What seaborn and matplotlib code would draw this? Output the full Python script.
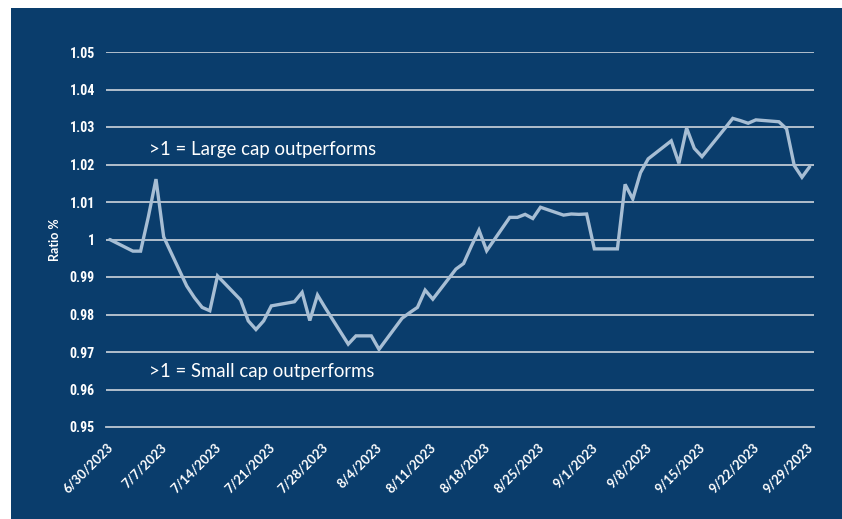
import matplotlib
matplotlib.use("Agg")
import matplotlib.pyplot as plt
import matplotlib.transforms as mtransforms
from matplotlib import font_manager as fm
import pandas as pd
import seaborn as sns

# Daily large-cap / small-cap performance ratio, Q3 2023
dates = [
    "2023-06-30", "2023-07-03", "2023-07-04", "2023-07-05", "2023-07-06", "2023-07-07",
    "2023-07-10", "2023-07-11", "2023-07-12", "2023-07-13", "2023-07-14",
    "2023-07-17", "2023-07-18", "2023-07-19", "2023-07-20", "2023-07-21",
    "2023-07-24", "2023-07-25", "2023-07-26", "2023-07-27", "2023-07-28",
    "2023-07-31", "2023-08-01", "2023-08-02", "2023-08-03", "2023-08-04",
    "2023-08-07", "2023-08-08", "2023-08-09", "2023-08-10", "2023-08-11",
    "2023-08-14", "2023-08-15", "2023-08-16", "2023-08-17", "2023-08-18",
    "2023-08-21", "2023-08-22", "2023-08-23", "2023-08-24", "2023-08-25",
    "2023-08-28", "2023-08-29", "2023-08-30", "2023-08-31", "2023-09-01",
    "2023-09-04", "2023-09-05", "2023-09-06", "2023-09-07", "2023-09-08",
    "2023-09-11", "2023-09-12", "2023-09-13", "2023-09-14", "2023-09-15",
    "2023-09-18", "2023-09-19", "2023-09-20", "2023-09-21", "2023-09-22",
    "2023-09-25", "2023-09-26", "2023-09-27", "2023-09-28", "2023-09-29",
]
ratio = [
    1.0000, 0.9969, 0.9969, 1.0060, 1.0161, 1.0007,
    0.9876, 0.9845, 0.9819, 0.9810, 0.9903,
    0.9839, 0.9783, 0.9760, 0.9783, 0.9823,
    0.9834, 0.9859, 0.9784, 0.9852, 0.9818,
    0.9721, 0.9743, 0.9743, 0.9743, 0.9707,
    0.9790, 0.9805, 0.9819, 0.9865, 0.9841,
    0.9921, 0.9936, 0.9982, 1.0025, 0.9970,
    1.0059, 1.0059, 1.0067, 1.0056, 1.0086,
    1.0065, 1.0068, 1.0067, 1.0068, 0.9975,
    0.9975, 1.0147, 1.0108, 1.0178, 1.0215,
    1.0263, 1.0203, 1.0297, 1.0243, 1.0221,
    1.0297, 1.0323, 1.0317, 1.0310, 1.0319,
    1.0314, 1.0295, 1.0197, 1.0166, 1.0194,
]

week_ticks = ["2023-06-30", "2023-07-07", "2023-07-14", "2023-07-21", "2023-07-28",
              "2023-08-04", "2023-08-11", "2023-08-18", "2023-08-25", "2023-09-01",
              "2023-09-08", "2023-09-15", "2023-09-22", "2023-09-29"]
week_labels = ["6/30/2023", "7/7/2023", "7/14/2023", "7/21/2023", "7/28/2023",
               "8/4/2023", "8/11/2023", "8/18/2023", "8/25/2023", "9/1/2023",
               "9/8/2023", "9/15/2023", "9/22/2023", "9/29/2023"]
y_ticks = [0.95, 0.96, 0.97, 0.98, 0.99, 1.00, 1.01, 1.02, 1.03, 1.04, 1.05]
y_labels = ["0.95", "0.96", "0.97", "0.98", "0.99", "1", "1.01", "1.02", "1.03", "1.04", "1.05"]

notes = [">1 = Large cap outperforms", ">1 = Small cap outperforms"]
note_levels = [1.0225, 0.9633]

NAVY = "#0A3D6C"
LINE = "#A7BED4"
GRID = "#BFC9D4"
WHITE = "#FFFFFF"

sns.set_theme(style="white")
names = {f.name for f in fm.fontManager.ttflist}
narrow = next((n for n in ["Liberation Sans Narrow", "Roboto Condensed", "DejaVu Sans"] if n in names), "DejaVu Sans")
body = next((n for n in ["Lato", "Open Sans", "DejaVu Sans"] if n in names), "DejaVu Sans")
plt.rcParams["font.family"] = [body, "DejaVu Sans"]

W, H = 842, 519
fig = plt.figure(figsize=(W / 100, H / 100), dpi=100, facecolor="white")

# navy panel behind the chart, leaving a thin white margin top and left
bg = fig.add_axes([11 / W, 0, 1 - 11 / W, 1 - 8 / H], zorder=0)
bg.set_facecolor(NAVY)
bg.set_xticks([])
bg.set_yticks([])
for s in bg.spines.values():
    s.set_visible(False)

ax = fig.add_axes([106 / W, 1 - 427 / H, (813.5 - 106) / W, (427 - 52) / H], zorder=1)
ax.set_facecolor("none")

df = pd.DataFrame({"date": pd.to_datetime(dates) + pd.Timedelta(hours=12), "ratio": ratio})
sns.lineplot(data=df, x="date", y="ratio", ax=ax, color=LINE, linewidth=2.4,
             solid_joinstyle="miter", zorder=3)

ax.set_ylim(0.95, 1.05)
ax.set_xlim(pd.Timestamp("2023-06-30"), pd.Timestamp("2023-09-30"))

for v in y_ticks[1:]:
    ax.axhline(v, color=GRID, linewidth=1.3, zorder=1)

ax.set_yticks(y_ticks)
ax.set_yticklabels(y_labels, fontfamily=narrow, fontstretch="condensed",
                   fontweight="bold", fontsize=10, color=WHITE)
ax.tick_params(axis="y", length=0, pad=8)

ax.set_xticks(pd.to_datetime(week_ticks))
ax.set_xticklabels(week_labels, fontsize=9.3, fontweight="bold", color=WHITE)
ax.tick_params(axis="x", direction="out", length=4, width=1.2, color=GRID, pad=2)
shift = mtransforms.ScaledTranslation(5 / 100, -10 / 100, fig.dpi_scale_trans)
for lbl in ax.get_xticklabels():
    lbl.set_rotation(45)
    lbl.set_ha("right")
    lbl.set_va("center")
    lbl.set_rotation_mode("anchor")
    lbl.set_transform(lbl.get_transform() + shift)

for s in ["top", "right", "left"]:
    ax.spines[s].set_visible(False)
ax.spines["bottom"].set_color(GRID)
ax.spines["bottom"].set_linewidth(1.3)

ax.set_xlabel("")
ax.set_ylabel("Ratio %", color=WHITE, fontsize=9, fontweight="bold", labelpad=6)

note_tf = ax.get_yaxis_transform()
for text, lvl in zip(notes, note_levels):
    ax.text((149 - 106) / (813.5 - 106), lvl, text, transform=note_tf, color=WHITE,
            fontsize=13.4, ha="left", va="baseline", zorder=4)

fig.savefig("out.png", dpi=100, facecolor="white")
